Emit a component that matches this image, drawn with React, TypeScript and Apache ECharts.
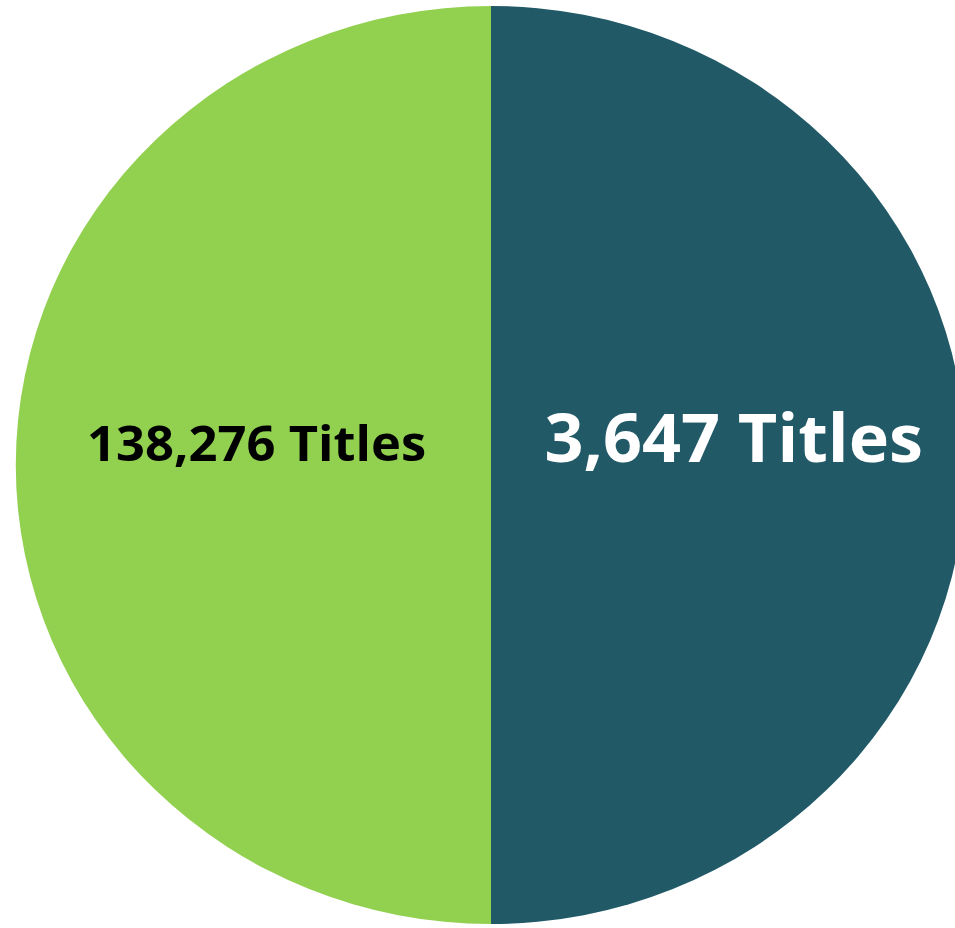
import React, { useEffect, useRef } from "react";
import * as echarts from "echarts";

const categories = ["Dark group", "Green group"];
const titleCounts = [3647, 138276];
const sliceShares = [50, 50];
const sliceColors = ["#215967", "#92D050"];
const labelColors = ["#ffffff", "#000000"];
const labelSizes = [66, 49];

export default function App() {
  const ref = useRef<HTMLDivElement>(null);
  useEffect(() => {
    document.body.style.margin = "0";
    const chart = echarts.init(ref.current!, undefined, { renderer: "svg" });
    const fmt = (n: number) => n.toLocaleString("en-US") + " Titles";
    chart.setOption({
      animation: false,
      series: [
        {
          type: "pie",
          center: [491, 465],
          radius: [0, 459],
          startAngle: 90,
          clockwise: true,
          silent: true,
          itemStyle: { borderWidth: 0 },
          label: {
            show: true,
            position: "inside",
            fontFamily: "Open Sans",
            fontWeight: "bold",
          },
          labelLine: { show: false },
          labelLayout: (p: any) =>
            p.dataIndex === 0 ? { dx: 2, dy: -29 } : { dx: 6, dy: -23 },
          data: categories.map((c, i) => ({
            name: c,
            value: sliceShares[i],
            itemStyle: { color: sliceColors[i] },
            label: {
              formatter: fmt(titleCounts[i]),
              color: labelColors[i],
              fontSize: labelSizes[i],
            },
          })),
        },
      ],
    });
    return () => chart.dispose();
  }, []);
  return (
    <div
      ref={ref}
      style={{
        position: "absolute",
        left: 0,
        top: 0,
        width: 955,
        height: 928,
        transform: "scaleX(1.035)",
        transformOrigin: "491px 465px",
      }}
    />
  );
}
